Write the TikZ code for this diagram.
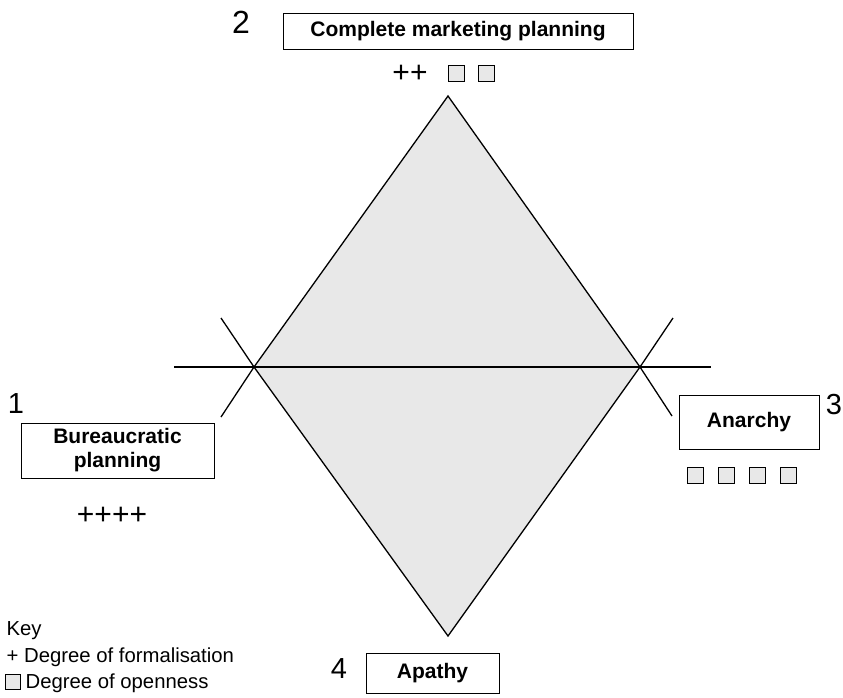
\documentclass[tikz,border=0pt]{standalone}
\usepackage{fontspec}
\setmainfont{Liberation Sans}
\usetikzlibrary{positioning,calc}
\tikzset{
  planbox/.style={draw,fill=white,line width=0.9pt,inner sep=0pt,align=center,
    font=\fontsize{21}{24}\selectfont\bfseries},
  openbox/.style={draw,fill=gray!18,line width=0.7pt,minimum size=16pt,inner sep=0pt},
  cornerno/.style={font=\fontsize{29}{29}\selectfont},
  plusmark/.style={font=\fontsize{30}{30}\selectfont},
  keytext/.style={anchor=west,inner sep=0pt,font=\fontsize{20.3}{24}\selectfont}
}

\begin{document}
\begin{tikzpicture}[x=1pt,y=-1pt,line width=1.3pt]
  \useasboundingbox (0,0) rectangle (843,697);
  % 頂点の定義
  \coordinate (top) at (448,96);
  \coordinate (left) at (254,367);
  \coordinate (right) at (640,367);
  \coordinate (bottom) at (448,636);
  \coordinate (hl) at (174,367);
  \coordinate (hr) at (711,367);
  \coordinate (lu) at (221,318);
  \coordinate (ld) at (221,417);
  \coordinate (ru) at (673,318);
  \coordinate (rd) at (672,416);

  % ひし形と線
  \filldraw[fill=gray!18] (top) -- (right) -- (bottom) -- (left) -- cycle;
  \draw (hl) -- (hr);
  \draw (lu) -- (left) -- (ld);
  \draw (ru) -- (right) -- (rd);

  % 箱
  \node[planbox,minimum width=350pt,minimum height=36pt] (complete) at (458,31) {Complete marketing planning};
  \node[planbox,minimum width=193pt,minimum height=55pt] (bureau) at (117.5,450.5) {Bureaucratic\\planning};
  \node[planbox,minimum width=140pt,minimum height=54pt] (anarchy) at (749,422) {Anarchy};
  \node[planbox,minimum width=133pt,minimum height=40pt] (apathy) at (432.5,673) {Apathy};

  % 番号
  \node[cornerno,font=\fontsize{32}{32}\selectfont] (n2) at (241,22) {2};
  \node[cornerno] (n1) at (16,404) {1};
  \node[cornerno] (n3) at (834,405) {3};
  \node[cornerno] (n4) at (339,669) {4};

  % 記号
  \node[plusmark] (plus2) at (410,74) {++};
  \node[openbox] (o2a) at (456,73) {};
  \node[openbox] (o2b) at (486,73) {};
  \node[plusmark] (plus1) at (112,516) {++++};
  \node[openbox] (o3a) at (695,475) {};
  \node[openbox] (o3b) at (726,475) {};
  \node[openbox] (o3c) at (757,475) {};
  \node[openbox] (o3d) at (788,475) {};

  % 凡例
  \node[keytext] (key) at (6,631) {Key};
  \node[keytext] (keyplus) at (6,657) {+ Degree of formalisation};
  \node[openbox,minimum size=15pt] (keybox) at (13,682) {};
  \node[keytext] (keyopen) at (25,683) {Degree of openness};
\end{tikzpicture}
\end{document}
